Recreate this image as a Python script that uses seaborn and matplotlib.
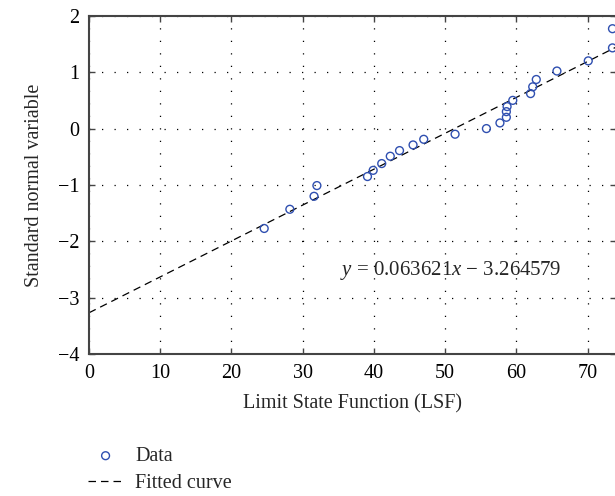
import numpy as np
import pandas as pd
import matplotlib
matplotlib.use("Agg")
import matplotlib.pyplot as plt
import seaborn as sns

# LSF values and the matching standard normal variable
lsf = [24.6, 28.2, 31.6, 32.0, 39.1, 39.9, 41.1, 42.3, 43.6, 45.5, 47.0, 51.4,
       55.8, 57.7, 58.6, 58.6, 58.7, 59.5, 62.0, 62.3, 62.8, 65.7, 70.1, 73.5, 73.5]
snv = [-1.77, -1.43, -1.20, -1.01, -0.85, -0.74, -0.62, -0.49, -0.39, -0.29, -0.19, -0.10,
       0.00, 0.10, 0.20, 0.30, 0.39, 0.50, 0.62, 0.74, 0.87, 1.02, 1.20, 1.43, 1.77]

# fitted line from the equation printed on the chart
slope = 0.063621
intercept = -3.264579

x_ticks = [0, 10, 20, 30, 40, 50, 60, 70]
y_ticks = [-4, -3, -2, -1, 0, 1, 2]

df = pd.DataFrame({"LSF": lsf, "SNV": snv})

sns.set_theme(style="white")
plt.rcParams["font.family"] = ["Liberation Serif", "DejaVu Serif"]
plt.rcParams["mathtext.fontset"] = "custom"
plt.rcParams["mathtext.rm"] = "Liberation Serif"
plt.rcParams["mathtext.it"] = "Liberation Serif:italic"

fig = plt.figure(figsize=(6.15, 4.96), dpi=100)
ax = fig.add_axes([0.1447, 0.2857, 0.857, 0.6826])

blue = "#2f4fb0"
sns.scatterplot(data=df, x="LSF", y="SNV", ax=ax, marker="o", s=32,
                facecolor="none", edgecolor=blue, linewidth=1.0,
                label="Data", zorder=3, clip_on=True)
ax.axline((0, intercept), slope=slope, color="black", lw=0.9,
          linestyle=(0, (6, 4)), label="Fitted curve", zorder=2)
if ax.get_legend() is not None:
    ax.get_legend().remove()

ax.set_xlim(0, 74.0)
ax.set_ylim(-4, 2)
ax.set_xticks(x_ticks)
ax.set_yticks(y_ticks)
ax.grid(True, color="black", linestyle=(0, (1, 9)), linewidth=0.9)

for side in ["left", "bottom", "top"]:
    ax.spines[side].set_visible(True)
    ax.spines[side].set_color("#444444")
    ax.spines[side].set_linewidth(1.5)
ax.spines["right"].set_visible(False)
ax.tick_params(direction="in", length=4, width=1, color="#444444",
               top=True, right=True, bottom=True, left=True,
               labelsize=14.5, pad=7, labelcolor="black")

ax.set_xlabel("Limit State Function (LSF)", fontsize=14.5, labelpad=8)
ax.set_ylabel("Standard normal variable", fontsize=14.5, labelpad=10)

ax.text(35.3, -2.51, "$y$ = 0.063621$x$ \u2212 3.264579", fontsize=15,
        ha="left", va="center")

handles, labels = ax.get_legend_handles_labels()
fig.legend(handles, labels, loc="upper left", bbox_to_anchor=(0.143, 0.099),
           bbox_transform=fig.transFigure, frameon=False, fontsize=14.5,
           handlelength=1.75, handletextpad=0.6, labelspacing=0.4,
           borderpad=0, borderaxespad=0)

fig.savefig("out.png", dpi=100)
